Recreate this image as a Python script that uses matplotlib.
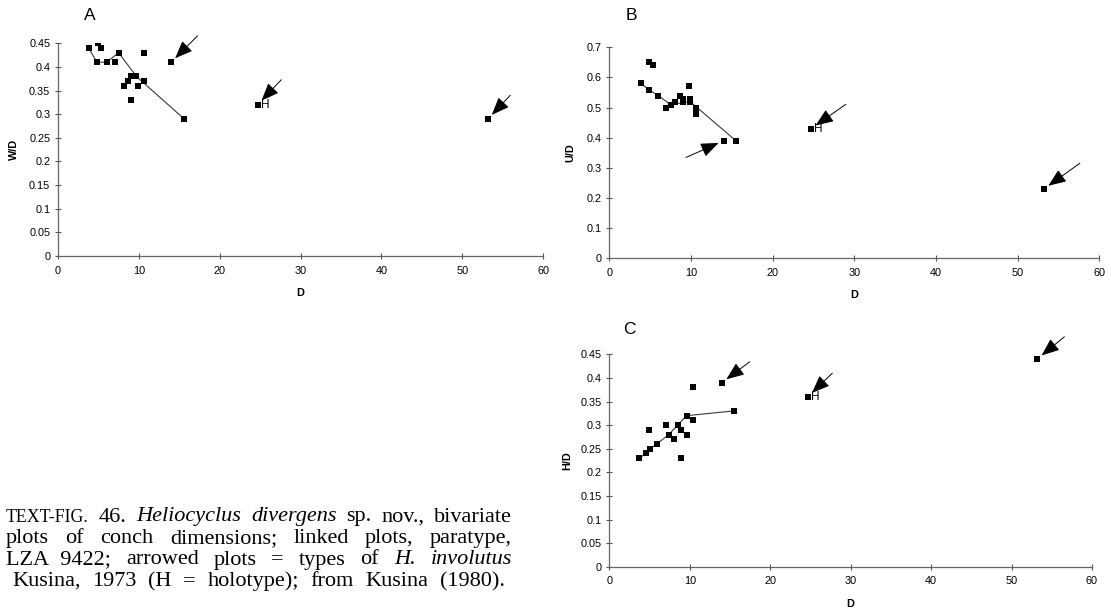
import matplotlib
matplotlib.use("Agg")
import matplotlib.pyplot as plt

W, H = 1111, 609

# ---------------- data ----------------
# Panel A: W/D against D
A_D = [3.8, 4.8, 5.0, 5.3, 6.0, 7.1, 7.5, 8.2, 8.7, 9.0, 9.0, 9.7, 9.9, 10.6, 10.6, 15.6]
A_WD = [0.44, 0.41, 0.45, 0.44, 0.41, 0.41, 0.43, 0.36, 0.37, 0.38, 0.33, 0.38, 0.36, 0.43, 0.37, 0.29]
A_link_D = [3.8, 4.8, 6.0, 7.5, 9.7, 15.6]
A_link_WD = [0.44, 0.41, 0.41, 0.43, 0.38, 0.29]

# Panel B: U/D against D
B_D = [3.9, 4.8, 4.9, 5.3, 6.0, 7.0, 7.5, 8.1, 8.65, 9.0, 9.0, 9.75, 9.9, 9.9, 10.6, 10.6, 15.5]
B_UD = [0.58, 0.56, 0.65, 0.64, 0.54, 0.50, 0.51, 0.52, 0.54, 0.53, 0.52, 0.57, 0.53, 0.52, 0.50, 0.48, 0.39]
B_link_D = [3.9, 4.8, 6.0, 7.5, 9.9, 15.5]
B_link_UD = [0.58, 0.56, 0.54, 0.51, 0.52, 0.39]

# Panel C: H/D against D
C_D = [3.7, 4.6, 4.9, 5.1, 5.9, 7.0, 7.4, 8.1, 8.6, 8.9, 8.9, 9.6, 9.7, 10.4, 10.4, 15.5]
C_HD = [0.23, 0.24, 0.29, 0.25, 0.26, 0.30, 0.28, 0.27, 0.30, 0.29, 0.23, 0.32, 0.28, 0.31, 0.38, 0.33]
C_link_D = [3.7, 4.6, 5.1, 5.9, 7.4, 9.6, 15.5]
C_link_HD = [0.23, 0.24, 0.25, 0.26, 0.28, 0.32, 0.33]

# Types of H. involutus (arrowed); index 1 = holotype
types_D = [14.0, 24.7, 53.2]
types_WD = [0.41, 0.32, 0.29]
types_UD = [0.39, 0.43, 0.23]
types_HD = [0.39, 0.36, 0.44]
holotype_index = 1

x_ticks = [0, 10, 20, 30, 40, 50, 60]
yticks_A = [0, 0.05, 0.1, 0.15, 0.2, 0.25, 0.3, 0.35, 0.4, 0.45]
yticks_B = [0, 0.1, 0.2, 0.3, 0.4, 0.5, 0.6, 0.7]
yticks_C = yticks_A

# ---------------- figure ----------------
fig = plt.figure(figsize=(W / 100, H / 100), dpi=100)
fig.patch.set_facecolor("white")

SANS = "Liberation Sans"
SERIF = "Liberation Serif"


def px_axes(left, right, top, bottom):
    return fig.add_axes([left / W, 1 - bottom / H, (right - left) / W, (bottom - top) / H])


def style(ax, yticks, ylabel, ylab_x):
    ax.set_xlim(0, 60)
    ax.set_ylim(0, yticks[-1])
    ax.set_xticks(x_ticks)
    ax.set_yticks(yticks)
    ax.set_xticklabels([f"{v:g}" for v in x_ticks], family=SANS, fontsize=7.8)
    ax.set_yticklabels([f"{v:g}" for v in yticks], family=SANS, fontsize=7.8)
    for s in ("top", "right"):
        ax.spines[s].set_visible(False)
    for s in ("left", "bottom"):
        ax.spines[s].set_color("#666666")
        ax.spines[s].set_linewidth(0.9)
    ax.tick_params(direction="inout", length=4, width=0.8, color="#555555", pad=3.5)
    ax.tick_params(axis="x", pad=5)
    ax.set_xlabel("D", family=SANS, fontsize=7.8, fontweight="bold")
    ax.set_ylabel(ylabel, family=SANS, fontsize=7.8, fontweight="bold")
    ax.xaxis.set_label_coords(0.5, -0.15)
    ax.yaxis.set_label_coords(ylab_x, 0.5)
    ax.patch.set_alpha(0)


def draw(ax, d, v, ld, lv, tv, arrow_offsets):
    ax.plot(ld, lv, color="#3a3a3a", lw=0.8, zorder=2)
    ax.plot(d, v, ls="none", marker="s", ms=3.7, color="black", mew=0, zorder=3)
    ax.plot(types_D, tv, ls="none", marker="s", ms=3.7, color="black", mew=0, zorder=3)
    for x, y, off in zip(types_D, tv, arrow_offsets):
        ax.annotate("", xy=(x, y), xytext=off, textcoords="offset points",
                    annotation_clip=False,
                    arrowprops=dict(arrowstyle="-|>,head_length=0.55,head_width=0.22",
                                    mutation_scale=20, lw=0.7, color="black",
                                    shrinkA=0, shrinkB=4))
    hx, hy = types_D[holotype_index], tv[holotype_index]
    ax.annotate("H", xy=(hx, hy), xytext=(2.5, -0.5), textcoords="offset points",
                va="center", ha="left", family=SANS, fontsize=8.5)


axA = px_axes(58, 543, 43.3, 256)
style(axA, yticks_A, "W/D", -0.080)
draw(axA, A_D, A_WD, A_link_D, A_link_WD, types_WD,
     [(19, 19), (17, 18), (16, 17)])

axB = px_axes(609.3, 1099.3, 47.3, 258.3)
style(axB, yticks_B, "U/D", -0.070)
draw(axB, B_D, B_UD, B_link_D, B_link_UD, types_UD,
     [(-27, -12), (25, 17.5), (26, 18.5)])

axC = px_axes(609.3, 1092, 354.3, 566.7)
style(axC, yticks_C, "H/D", -0.077)
draw(axC, C_D, C_HD, C_link_D, C_link_HD, types_HD,
     [(20, 15), (17.5, 17), (19.5, 16)])

# panel letters
for letter, (x, y) in {"A": (90, 15), "B": (631, 15), "C": (629, 330)}.items():
    fig.text(x / W, 1 - y / H, letter, family=SANS, fontsize=12.5,
             ha="center", va="center")

# ---------------- caption ----------------
cap_size = 16
lines = [
    ([("TEXT-FIG.", "sc"), ("46.", "r"), ("Heliocyclus", "i"), ("divergens", "i"),
      ("sp.", "r"), ("nov.,", "r"), ("bivariate", "r")], (6, 512)),
    ([(w, "r") for w in "plots of conch dimensions; linked plots, paratype,".split()], (6, 512)),
    ([("LZA\u20029422;", "r"), ("arrowed", "r"), ("plots", "r"), ("=", "r"), ("types", "r"),
      ("of", "r"), ("H.", "i"), ("involutus", "i")], (6, 512)),
    ([(w, "r") for w in "Kusina, 1973 (H = holotype); from Kusina (1980).".split()], (12, 505)),
]
baselines = [521.5, 543, 564.5, 586]

renderer = fig.canvas.get_renderer()
for (words, (x_left, x_right)), base in zip(lines, baselines):
    objs = []
    for w, st in words:
        kw = dict(family=SERIF, fontsize=cap_size, va="baseline", ha="left")
        if st == "i":
            kw["style"] = "italic"
        if st == "sc":
            kw["fontsize"] = cap_size * 0.8
        objs.append(fig.text(0, 1 - base / H, w, **kw))
    widths = [o.get_window_extent(renderer).width for o in objs]
    total = sum(widths)
    gap = (x_right - x_left - total) / (len(objs) - 1)
    x = x_left
    for o, wdt in zip(objs, widths):
        o.set_x(x / W)
        x += wdt + gap

fig.savefig("out.png", dpi=100, facecolor="white")
